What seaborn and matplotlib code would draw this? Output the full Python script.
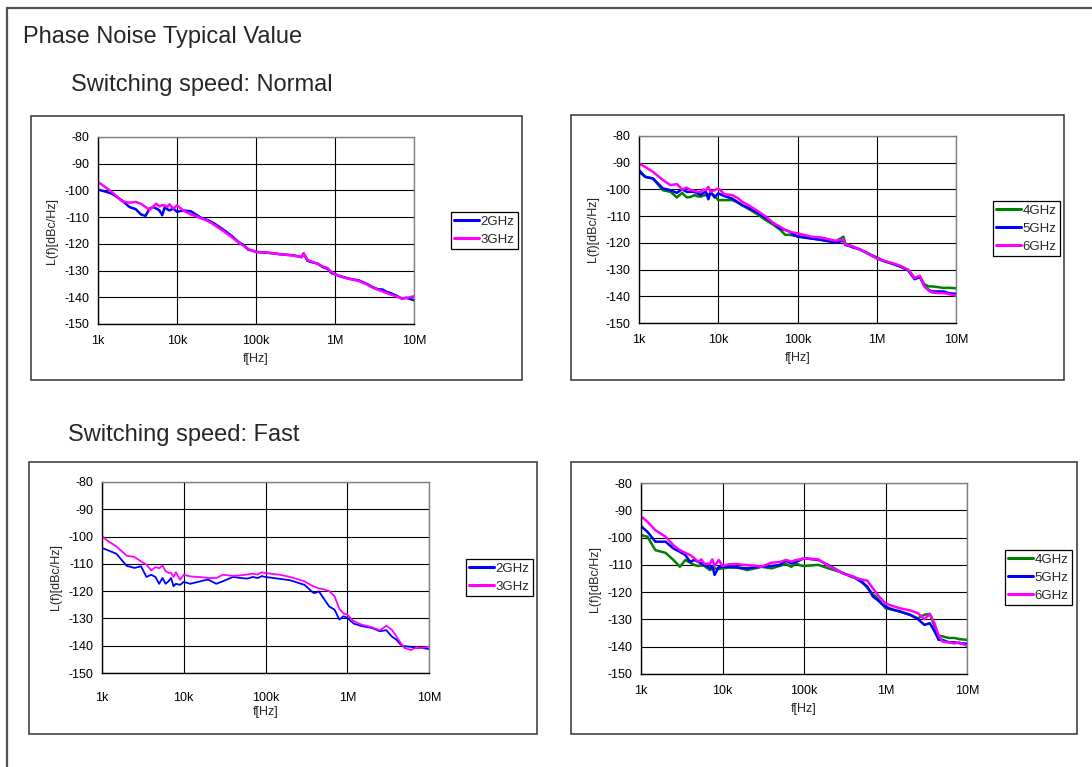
import matplotlib
matplotlib.use("Agg")
import matplotlib.pyplot as plt
from matplotlib.patches import Rectangle
from matplotlib.lines import Line2D
import numpy as np
import pandas as pd
import seaborn as sns

# Offset frequency grid [Hz]
FREQ = [1e3, 1.2e3, 1.5e3, 2e3, 2.5e3, 3e3, 3.5e3, 4e3, 4.5e3, 5e3, 5.5e3, 6e3,
        6.5e3, 7e3, 7.5e3, 8e3, 9e3, 10e3, 12e3, 15e3, 18e3, 20e3, 25e3, 30e3,
        40e3, 50e3, 60e3, 70e3, 80e3, 90e3, 100e3, 150e3, 200e3, 300e3, 380e3,
        400e3, 450e3, 500e3, 600e3, 700e3, 800e3, 900e3, 1e6, 1.2e6, 1.5e6, 2e6,
        2.5e6, 3e6, 3.5e6, 4e6, 4.5e6, 5e6, 6e6, 7e6, 8e6, 10e6]

# Switching speed: Normal, 2 GHz / 3 GHz
NORMAL_2G = [-99.7, -100.3, -101.2, -103.7, -106.2, -107.0, -109.0, -109.5, -106.8, -106.2,
             -106.8, -107.5, -109.3, -106.2, -107.0, -107.5, -106.8, -108.0, -107.5, -107.8,
             -109.3, -110.2, -111.2, -112.5, -115.0, -117.2, -119.3, -120.5, -122.2, -122.5,
             -123.0, -123.4, -123.9, -124.3, -125.0, -123.6, -126.3, -126.8, -127.4, -128.7,
             -129.3, -130.9, -131.4, -132.2, -133.0, -133.7, -134.9, -136.2, -137.0, -137.1,
             -138.0, -138.4, -139.4, -140.5, -140.2, -141.1]
NORMAL_3G = [-96.8, -98.5, -100.6, -104.0, -104.6, -104.3, -105.0, -106.2, -107.3, -106.0,
             -105.0, -106.0, -105.5, -105.6, -106.2, -105.2, -106.8, -105.6, -107.5, -109.0,
             -109.8, -110.4, -111.5, -113.0, -115.5, -117.6, -119.5, -120.8, -122.0, -122.5,
             -123.0, -123.4, -123.8, -124.4, -124.9, -123.5, -126.0, -126.6, -127.4, -128.5,
             -129.0, -130.5, -131.4, -132.4, -133.1, -133.9, -135.1, -136.4, -137.2, -137.8,
             -138.4, -138.9, -139.7, -140.4, -140.3, -139.6]

# Switching speed: Normal, 4 / 5 / 6 GHz
NORMAL_4G = [-93.4, -95.3, -95.9, -100.3, -100.9, -103.0, -101.3, -103.0, -102.8, -102.1,
             -102.6, -102.7, -102.3, -102.1, -101.9, -101.5, -102.3, -104.0, -104.0, -104.0,
             -105.0, -105.9, -107.6, -109.0, -111.5, -113.3, -115.0, -117.0, -117.0, -117.3,
             -117.4, -118.3, -118.9, -119.5, -117.7, -120.2, -120.8, -121.4, -122.3, -123.3,
             -124.3, -125.1, -125.8, -126.8, -127.6, -128.9, -130.1, -133.2, -132.6, -135.5,
             -136.3, -136.3, -136.6, -136.9, -136.8, -137.0]
NORMAL_5G = [-92.8, -95.3, -95.9, -99.6, -100.3, -101.3, -99.9, -100.9, -100.9, -100.9,
             -101.5, -102.1, -101.3, -100.9, -103.7, -100.9, -103.0, -101.5, -102.5, -103.4,
             -105.0, -105.9, -107.1, -108.3, -110.8, -112.7, -114.6, -115.2, -115.8, -117.0,
             -117.7, -118.4, -118.9, -119.9, -119.2, -120.8, -121.2, -121.7, -122.4, -123.3,
             -124.1, -124.9, -125.5, -126.6, -127.6, -128.9, -130.4, -133.6, -132.8, -136.3,
             -137.6, -138.2, -138.2, -138.2, -138.8, -139.1]
NORMAL_6G = [-90.3, -91.6, -93.4, -96.5, -98.4, -98.0, -100.0, -99.3, -100.3, -100.5,
             -100.9, -100.9, -100.0, -100.3, -99.0, -100.9, -100.3, -99.6, -101.8, -102.1,
             -103.4, -104.6, -106.2, -107.7, -110.2, -112.7, -113.9, -115.2, -115.8, -116.2,
             -116.4, -117.7, -118.0, -119.2, -118.7, -120.8, -121.0, -121.4, -122.4, -123.3,
             -124.1, -125.1, -125.8, -126.6, -127.4, -128.6, -130.1, -133.2, -132.3, -136.3,
             -137.8, -138.6, -138.8, -138.8, -139.1, -139.8]

# Switching speed: Fast, 2 GHz / 3 GHz
FAST_2G = [-104.2, -105.1, -106.3, -110.7, -111.5, -110.9, -114.8, -114.0, -114.8, -117.3,
           -115.2, -117.3, -116.4, -115.2, -118.2, -117.3, -117.7, -116.6, -117.3, -116.6,
           -116.0, -115.8, -117.3, -116.4, -114.8, -115.2, -115.4, -114.8, -115.2, -114.5,
           -114.8, -115.5, -116.0, -117.7, -120.5, -120.7, -120.1, -122.1, -125.6, -126.8,
           -130.4, -129.2, -129.8, -131.9, -132.8, -133.5, -134.7, -134.3, -136.6, -137.8,
           -139.6, -140.2, -140.4, -140.8, -140.8, -141.2]
FAST_3G = [-99.9, -101.8, -103.6, -107.0, -107.5, -109.1, -110.3, -112.4, -111.2, -111.6,
           -110.6, -112.7, -113.3, -113.3, -114.8, -113.1, -115.8, -114.0, -114.6, -114.8,
           -115.0, -115.2, -115.2, -114.0, -114.4, -114.2, -113.9, -113.6, -113.9, -113.1,
           -113.4, -114.0, -114.8, -116.4, -118.2, -118.4, -119.0, -119.2, -120.0, -121.9,
           -126.5, -128.2, -128.6, -131.0, -132.3, -133.2, -134.4, -132.7, -134.1, -136.6,
           -139.0, -140.8, -141.6, -140.6, -140.9, -140.3]

# Switching speed: Fast, 4 / 5 / 6 GHz
FAST_4G = [-99.1, -99.7, -104.6, -105.6, -108.2, -110.7, -108.2, -109.2, -110.0, -110.4,
           -110.2, -110.4, -111.2, -111.9, -111.5, -111.3, -111.5, -111.3, -111.0, -111.0,
           -111.5, -111.9, -111.3, -110.7, -111.3, -110.4, -109.7, -110.7, -109.5, -110.2,
           -110.4, -110.0, -111.3, -112.9, -114.4, -114.6, -115.0, -115.5, -118.5, -120.7,
           -122.3, -124.2, -125.9, -126.4, -127.1, -128.3, -129.6, -128.3, -128.0, -132.6,
           -136.0, -136.2, -136.8, -136.8, -137.2, -137.5]
FAST_5G = [-95.8, -97.9, -101.5, -101.5, -104.0, -105.2, -106.4, -108.9, -108.2, -108.9,
           -109.5, -110.1, -110.4, -111.3, -110.4, -113.7, -110.7, -110.7, -110.7, -110.9,
           -111.2, -111.3, -110.9, -110.7, -110.4, -110.1, -108.5, -109.5, -108.9, -108.2,
           -107.6, -108.2, -110.1, -113.1, -114.1, -114.3, -115.3, -116.2, -118.0, -121.6,
           -122.9, -124.3, -125.3, -126.3, -127.1, -128.3, -129.9, -132.0, -131.4, -134.4,
           -137.5, -137.5, -138.4, -138.4, -138.7, -138.9]
FAST_6G = [-92.2, -94.2, -97.3, -99.7, -102.8, -104.6, -105.6, -106.4, -107.5, -108.9,
           -108.0, -109.7, -109.5, -109.7, -108.0, -110.4, -108.2, -110.4, -109.8, -109.7,
           -110.0, -110.1, -110.3, -110.7, -109.2, -109.0, -108.2, -108.8, -108.2, -108.0,
           -107.6, -108.0, -110.4, -113.1, -114.1, -114.3, -115.0, -115.3, -115.8, -118.6,
           -121.0, -122.7, -124.1, -125.0, -125.9, -126.7, -127.7, -129.9, -128.0, -131.4,
           -136.0, -138.1, -138.4, -138.8, -138.4, -139.7]

X_TICKS = [1e3, 1e4, 1e5, 1e6, 1e7]
X_TICK_LABELS = ["1k", "10k", "100k", "1M", "10M"]
Y_TICKS = [-150, -140, -130, -120, -110, -100, -90, -80]

TITLE = "Phase Noise Typical Value"
SECTION_NORMAL = "Switching speed: Normal"
SECTION_FAST = "Switching speed: Fast"
X_LABEL = "f[Hz]"
Y_LABEL = "L(f)[dBc/Hz]"

COLORS = {"2GHz": "#0000FF", "3GHz": "#FF00FF",
          "4GHz": "#008000", "5GHz": "#0000FF", "6GHz": "#FF00FF"}

sns.set_style("white")
plt.rcParams["font.family"] = ["Liberation Sans", "DejaVu Sans"]

W, H = 1092, 767
fig = plt.figure(figsize=(W / 100, H / 100), dpi=100)


def fx(px):
    return px / W


def fy(py):
    return 1 - py / H


# outer frame (left and top edges)
fig.add_artist(Line2D([fx(7), fx(7)], [fy(8), 0], transform=fig.transFigure,
                      color="#505050", lw=1.6))
fig.add_artist(Line2D([fx(7), 1], [fy(8), fy(8)], transform=fig.transFigure,
                      color="#505050", lw=1.6))

fig.text(fx(23), fy(37), TITLE, fontsize=17, va="center", ha="left")
fig.text(fx(71), fy(85), SECTION_NORMAL, fontsize=17, va="center", ha="left")
fig.text(fx(68), fy(435), SECTION_FAST, fontsize=17, va="center", ha="left")


def chart_box(x0, y0, x1, y1):
    rect = Rectangle((fx(x0), fy(y1)), fx(x1) - fx(x0), fy(y0) - fy(y1),
                     transform=fig.transFigure, facecolor="white",
                     edgecolor="#333333", lw=1.1, zorder=-1)
    fig.add_artist(rect)


def panel(ax_px, box_px, series, legend_px, lw, xpad, xlabpad):
    chart_box(*box_px)
    l, t, r, b = ax_px
    ax = fig.add_axes([fx(l), fy(b), fx(r) - fx(l), fy(t) - fy(b)])
    frames = [pd.DataFrame({"freq": FREQ, "level": vals, "carrier": name})
              for name, vals in series]
    df = pd.concat(frames, ignore_index=True)
    names = [n for n, _ in series]
    sns.lineplot(data=df, x="freq", y="level", hue="carrier", hue_order=names,
                 palette={n: COLORS[n] for n in names}, lw=lw, ax=ax,
                 legend=True)
    ax.set_xscale("log")
    ax.set_xlim(1e3, 1e7)
    ax.set_ylim(-150, -80)
    ax.set_xticks(X_TICKS)
    ax.set_xticklabels(X_TICK_LABELS)
    ax.xaxis.set_minor_locator(matplotlib.ticker.NullLocator())
    ax.set_yticks(Y_TICKS)
    ax.set_yticklabels([str(v) for v in Y_TICKS])
    ax.tick_params(axis="both", labelsize=9, length=0, colors="black")
    ax.tick_params(axis="x", pad=xpad)
    ax.tick_params(axis="y", pad=6)
    ax.grid(True, color="black", lw=0.8)
    ax.set_axisbelow(True)
    for side in ("left", "bottom"):
        ax.spines[side].set_color("black")
        ax.spines[side].set_linewidth(1.0)
    for side in ("top", "right"):
        ax.spines[side].set_color("#808080")
        ax.spines[side].set_linewidth(1.0)
    ax.set_xlabel(X_LABEL, fontsize=9, labelpad=xlabpad)
    ax.set_ylabel(Y_LABEL, fontsize=9, labelpad=5)
    handles, labels = ax.get_legend_handles_labels()
    if ax.get_legend() is not None:
        ax.get_legend().remove()
    leg = ax.legend(handles, labels, loc="upper left",
                    bbox_to_anchor=(fx(legend_px[0]), fy(legend_px[1])),
                    bbox_transform=fig.transFigure, fontsize=9.5,
                    frameon=True, fancybox=False, edgecolor="black",
                    framealpha=1, borderpad=0.25, handlelength=1.9,
                    handletextpad=0.1, labelspacing=0.45, borderaxespad=0)
    leg.get_frame().set_linewidth(0.9)
    for h in leg.get_lines():
        h.set_linewidth(2.2)
    return ax


panel((98, 137, 414, 324), (31, 116, 522, 380),
      [("2GHz", NORMAL_2G), ("3GHz", NORMAL_3G)], (451, 212), 1.8, 8, 4)
panel((639, 136, 956, 323), (571, 115, 1064, 380),
      [("4GHz", NORMAL_4G), ("5GHz", NORMAL_5G), ("6GHz", NORMAL_6G)],
      (993, 201), 1.8, 8, 4)
panel((102, 482, 429, 673), (29, 462, 537, 734),
      [("2GHz", FAST_2G), ("3GHz", FAST_3G)], (466, 559), 1.3, 14, 1)
panel((641, 483, 967, 674), (571, 462, 1077, 734),
      [("4GHz", FAST_4G), ("5GHz", FAST_5G), ("6GHz", FAST_6G)],
      (1005, 550), 1.8, 8, 4)

fig.savefig("out.png", dpi=100)
